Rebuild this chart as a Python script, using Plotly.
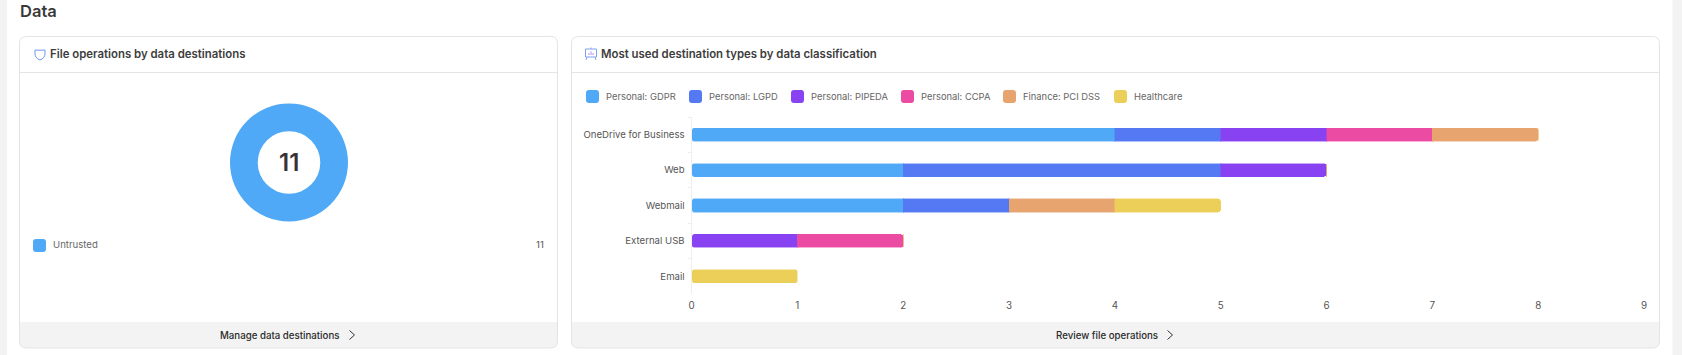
import plotly.graph_objects as go

W, H = 1682, 355

# ---------- data ----------
donut_labels = ["Untrusted"]
donut_values = [11]
donut_total = "11"

categories = ["OneDrive for Business", "Web", "Webmail", "External USB", "Email"]
gdpr = [4, 2, 2, 0, 0]
lgpd = [1, 3, 1, 0, 0]
pipeda = [1, 1, 0, 1, 0]
ccpa = [1, 0, 0, 1, 0]
pci = [1, 0, 1, 0, 0]
healthcare = [0, 0, 1, 0, 1]
series_names = ["Personal: GDPR", "Personal: LGPD", "Personal: PIPEDA",
                "Personal: CCPA", "Finance: PCI DSS", "Healthcare"]
series_values = [gdpr, lgpd, pipeda, ccpa, pci, healthcare]
x_ticks = [0, 1, 2, 3, 4, 5, 6, 7, 8, 9]

section_title = "Data"
card1_title = "File operations by data destinations"
card2_title = "Most used destination types by data classification"
card1_footer = "Manage data destinations"
card2_footer = "Review file operations"

# ---------- styles ----------
colors = ["#4FA9F6", "#5579F2", "#8842F2", "#EC4BA3", "#E8A46F", "#EBCF59"]
halos = ["rgba(79,169,246,.45)", "rgba(85,121,242,.45)", "rgba(136,66,242,.45)",
         "rgba(236,75,163,.45)", "rgba(232,164,111,.45)", "rgba(235,207,89,.45)"]
FONT = "Inter, 'Noto Sans', sans-serif"
BORDER = "#E4E4E4"
FOOT = "#F3F3F3"
legend_swatch_x = [586, 689, 791, 901, 1003, 1114]
PLOT_X0, PLOT_X1, PLOT_Y0, PLOT_Y1 = 691.5, 1644, 117, 294


def px(x):
    return x / W


def py(y):
    return 1 - y / H


def P(d):
    """Path in pixel coordinates -> paper coordinates."""
    out, nums = [], []
    for tok in d.split():
        if tok.isalpha():
            out.append(tok)
        else:
            nums.append(float(tok))
            if len(nums) == 2:
                out.append(f"{px(nums[0]):.5f},{py(nums[1]):.5f}")
                nums = []
    return " ".join(out)


def rrect(x0, y0, x1, y1, r, tl=True, tr=True, br=True, bl=True):
    a, b, c, d = (r if tl else 0), (r if tr else 0), (r if br else 0), (r if bl else 0)
    return P(
        f"M {x0+a} {y0} L {x1-b} {y0} Q {x1} {y0} {x1} {y0+b} "
        f"L {x1} {y1-c} Q {x1} {y1} {x1-c} {y1} L {x0+d} {y1} "
        f"Q {x0} {y1} {x0} {y1-d} L {x0} {y0+a} Q {x0} {y0} {x0+a} {y0} Z"
    )


shapes, notes = [], []


def path(d, fill=None, line=None, w=1, layer="below"):
    shapes.append(dict(type="path", xref="paper", yref="paper", path=d, layer=layer,
                       fillcolor=fill or "rgba(0,0,0,0)",
                       line=dict(color=line or "rgba(0,0,0,0)", width=w if line else 0)))


def text(t, x, y, size, color, weight=400, anchor="left"):
    # annotations carry about 2px of inner padding on each side
    dx = {"left": -2, "right": 2, "center": 0}[anchor]
    notes.append(dict(text=t, x=px(x + dx), y=py(y), xref="paper", yref="paper",
                      xanchor=anchor, yanchor="middle", showarrow=False,
                      font=dict(family=FONT, size=size, color=color, weight=weight)))


# page side bands
path(P(f"M 0 0 L 7 0 L 7 {H} L 0 {H} Z"), FOOT)
path(P(f"M 1672.5 0 L {W} 0 L {W} {H} L 1672.5 {H} Z"), FOOT)

text(section_title, 19.5, 11, 16.5, "#3A3A3A", 600)

for x0, x1, title, tx, foot, fx, cx in [
    (19.5, 557.5, card1_title, 49.5, card1_footer, 279, 349.5),
    (571.5, 1659.5, card2_title, 601, card2_footer, 1106.5, 1167.5),
]:
    path(rrect(x0, 36.5, x1, 348, 7), "#FFFFFF")
    path(rrect(x0, 322, x1, 348, 7, tl=False, tr=False), FOOT)
    path(rrect(x0, 36.5, x1, 348, 7), None, BORDER, 1)
    path(P(f"M {x0} 72.5 L {x1} 72.5"), None, BORDER, 1)
    text(title, tx, 54, 11.4, "#3D3D3D", 600)
    text(foot, fx, 335, 9.7, "#2B2B2B", 500, "center")
    path(P(f"M {cx} 330.5 L {cx+5} 335 L {cx} 339.5"), None, "#333333", 1)

# shield icon
path(P("M 35 50 Q 40 50.5 45 50 L 45 54 Q 45 58 40 60 Q 35 58 35 54 Z"), None, "#6F96EE", 1)
# presentation icon
path(P("M 585.5 49 L 596.5 49 L 596.5 57 L 585.5 57 Z"), None, "#7FA3F2", 1)
path(P("M 587 57 L 586 60 M 595 57 L 596 60 M 591 47.5 L 591 49"), None, "#7FA3F2", 1)
path(P("M 589 55 L 589 53 M 591 55 L 591 51.5 M 593 55 L 593 53"), None, "#B58CF0", 1)

# donut legend
path(rrect(33, 239, 46, 252, 3), colors[0])
text(donut_labels[0], 52.5, 244.5, 9.6, "#666666")
text(str(donut_values[0]), 544, 244.5, 9.6, "#555555", 400, "right")
text(donut_total, 289, 162, 24, "#3A3335", 600, "center")

# bar legend
for name, col, sx in zip(series_names, colors, legend_swatch_x):
    path(rrect(sx, 90, sx + 13, 103, 3), col)
    text(name, sx + 19.5, 96.5, 9.4, "#666666")

# round the left end of each stacked bar (plotly only rounds the far end)
band = (PLOT_Y1 - PLOT_Y0) / len(categories)
for i in range(len(categories)):
    c = PLOT_Y0 + band * (i + 0.5)
    x = PLOT_X0 + 0.5
    for y, s in ((c - 7, 1), (c + 7, -1)):
        path(P(f"M {x} {y} L {x+3} {y} Q {x} {y} {x} {y + 3*s} Z"), "#FFFFFF", layer="above")

fig = go.Figure()
fig.add_trace(go.Pie(
    labels=donut_labels, values=donut_values, hole=0.53, sort=False,
    marker=dict(colors=[colors[0]], line=dict(width=0)),
    textinfo="none", showlegend=False,
    domain=dict(x=[px(230), px(348)], y=[py(221.5), py(103.5)]),
))
for name, vals, col, halo in zip(series_names, series_values, colors, halos):
    fig.add_trace(go.Bar(
        y=categories, x=vals, name=name, orientation="h",
        marker=dict(color=col, line=dict(color=halo, width=1)),
        showlegend=False, width=0.37,
    ))

fig.update_layout(
    template="none",
    width=W, height=H, margin=dict(l=0, r=0, t=0, b=0, pad=0), autosize=False,
    paper_bgcolor="#FFFFFF", plot_bgcolor="rgba(0,0,0,0)",
    barmode="stack", barcornerradius=3, showlegend=False,
    shapes=shapes, annotations=notes,
    font=dict(family=FONT),
    xaxis=dict(domain=[px(PLOT_X0), px(PLOT_X1)], range=[0, 9], tickmode="array",
               tickvals=x_ticks, showgrid=False, zeroline=False, showline=False,
               ticks="", ticklabelstandoff=4, anchor="y", automargin=False,
               tickfont=dict(size=9.8, color="#555555", family=FONT)),
    yaxis=dict(domain=[py(PLOT_Y1), py(PLOT_Y0)], categoryorder="array",
               categoryarray=categories, autorange="reversed", tickson="boundaries",
               showgrid=False, zeroline=False, showline=True, linecolor="#EEEEEE",
               ticks="outside", ticklen=3, tickcolor="#EEEEEE", anchor="x",
               ticklabelstandoff=4, automargin=False,
               tickfont=dict(size=9.6, color="#555555", family=FONT)),
)

fig.write_html("out.html", config=dict(displayModeBar=False),
               post_script="document.body.style.margin='0';document.body.style.overflow='hidden';")
